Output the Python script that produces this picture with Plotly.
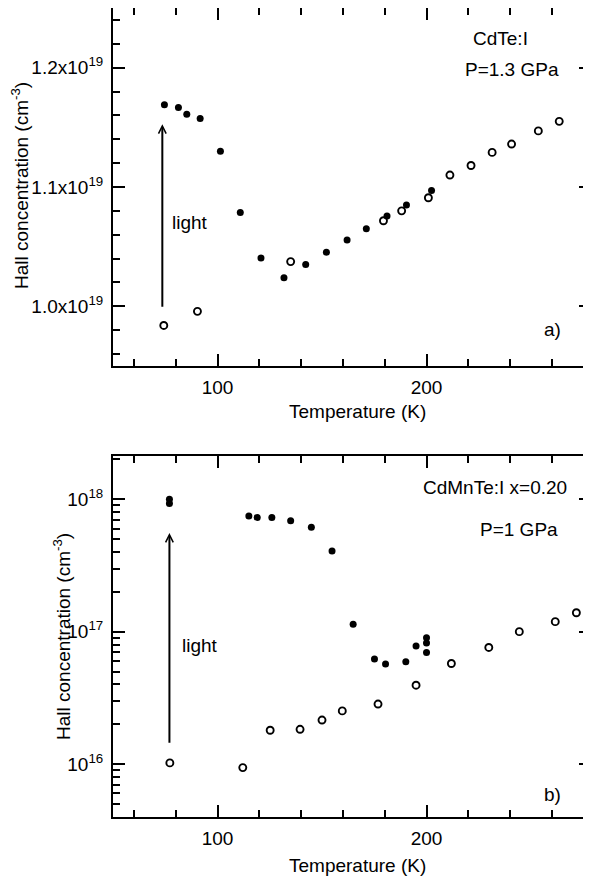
import plotly.graph_objects as go

# ---------------- data ----------------
# Panel a) CdTe:I, P = 1.3 GPa  (concentration in units of 1e19 cm^-3)
a_light_T = [74.6, 81.3, 85.3, 91.7, 101.4, 110.9, 120.8, 131.8, 142.2, 152.1,
             162.0, 171.2, 181.1, 190.4, 202.4]
a_light_n = [1.169, 1.1667, 1.161, 1.1575, 1.130, 1.0786, 1.0406, 1.0239, 1.035,
             1.0453, 1.0556, 1.065, 1.0758, 1.085, 1.097]
a_dark_T = [74.3, 90.4, 135.0, 179.4, 188.1, 200.9, 211.2, 221.3, 231.4, 240.7,
            253.5, 263.5, 277.1]
a_dark_n = [0.984, 0.9958, 1.0375, 1.0717, 1.080, 1.091, 1.110, 1.118, 1.129,
            1.136, 1.147, 1.155, 1.167]

# Panel b) CdMnTe:I x=0.20, P = 1 GPa  (cm^-3)
b_light_T = [77, 77, 115, 119, 126, 135, 144.9, 154.8, 164.9, 175.1, 180.4,
             190.1, 195, 200, 200, 200]
b_light_n = [1.0e18, 9.3e17, 7.48e17, 7.3e17, 7.3e17, 6.88e17, 6.14e17, 4.07e17,
             1.14e17, 6.21e16, 5.69e16, 5.93e16, 7.81e16, 9.0e16, 8.2e16, 6.95e16]
b_dark_T = [77.2, 112.1, 125.2, 139.5, 150, 159.7, 176.8, 195, 211.9, 229.8,
            244.4, 261.6, 271.7]
b_dark_n = [1.02e16, 9.4e15, 1.8e16, 1.83e16, 2.15e16, 2.52e16, 2.84e16, 3.94e16,
            5.75e16, 7.6e16, 1.0e17, 1.19e17, 1.39e17]

x_ticks = [100, 200]
a_y_ticks = [1.0e19, 1.1e19, 1.2e19]
a_y_labels = ["1.0x10<sup>19</sup>", "1.1x10<sup>19</sup>", "1.2x10<sup>19</sup>"]
b_y_ticks = [1e16, 1e17, 1e18]
b_y_labels = ["10<sup>16</sup>", "10<sup>17</sup>", "10<sup>18</sup>"]
b_minor_ticks = [k * 10.0 ** e for e in range(15, 19) for k in range(2, 10)]

# ---------------- figure ----------------
OFF = 8                      # page body margin of the html page
W, H = 591 - OFF, 877 - OFF
FONT = "Liberation Sans, Arial, Helvetica, sans-serif"
FS = 19

def px_x(p):
    return (p - OFF) / W

def px_y(p):
    return 1 - (p - OFF) / H

fig = go.Figure()

filled = dict(symbol="circle", size=7, color="black")
opened = dict(symbol="circle-open", size=7, color="black", line=dict(width=1.9, color="black"))

fig.add_trace(go.Scatter(x=a_light_T, y=[v * 1e19 for v in a_light_n], mode="markers",
                         marker=filled, xaxis="x", yaxis="y", showlegend=False,
                         cliponaxis=False))
fig.add_trace(go.Scatter(x=a_dark_T, y=[v * 1e19 for v in a_dark_n], mode="markers",
                         marker=opened, xaxis="x", yaxis="y", showlegend=False,
                         cliponaxis=False))
fig.add_trace(go.Scatter(x=b_light_T, y=b_light_n, mode="markers",
                         marker=filled, xaxis="x2", yaxis="y2", showlegend=False,
                         cliponaxis=False))
fig.add_trace(go.Scatter(x=b_dark_T, y=b_dark_n, mode="markers",
                         marker=opened, xaxis="x2", yaxis="y2", showlegend=False,
                         cliponaxis=False))

xdom = [px_x(113), 1.0]
a_ydom = [px_y(366), min(px_y(5), 1.0)]
b_ydom = [px_y(817), px_y(456)]

axis_common = dict(showline=True, linecolor="black", linewidth=2, mirror="ticks",
                   ticks="inside", ticklen=12, tickwidth=2, tickcolor="black",
                   showgrid=False, zeroline=False, automargin=False,
                   tickfont=dict(family=FONT, size=FS, color="black"))

xaxis_cfg = dict(axis_common, range=[50, 278.7], tickmode="array", tickvals=x_ticks,
                 ticktext=[str(t) for t in x_ticks], domain=xdom, ticklabelstandoff=3,
                 minor=dict(ticks="inside", ticklen=7, tickwidth=2, tickcolor="black",
                            dtick=20, tick0=0, showgrid=False))

fig.update_layout(
    width=W, height=H,
    margin=dict(l=0, r=0, t=0, b=0),
    paper_bgcolor="white", plot_bgcolor="white",
    template="none",
    font=dict(family=FONT, size=FS, color="black"),
    xaxis=dict(xaxis_cfg, anchor="y"),
    yaxis=dict(axis_common, anchor="x", domain=a_ydom, range=[0.95e19, 1.25e19],
               tickmode="array", tickvals=a_y_ticks, ticktext=a_y_labels,
               ticklabelstandoff=4,
               minor=dict(ticks="inside", ticklen=7, tickwidth=2, tickcolor="black",
                          dtick=0.02e19, tick0=0, showgrid=False)),
    xaxis2=dict(xaxis_cfg, anchor="y2"),
    yaxis2=dict(axis_common, anchor="x2", domain=b_ydom, type="log",
                range=[15.6, 18.327], tickmode="array", tickvals=b_y_ticks,
                ticktext=b_y_labels, ticklabelstandoff=4,
                minor=dict(ticks="inside", ticklen=7, tickwidth=2, tickcolor="black",
                           tickmode="array", tickvals=b_minor_ticks, showgrid=False)),
)

def txt(text, xp, yp, **kw):
    d = dict(text=text, x=px_x(xp), y=px_y(yp), xref="paper", yref="paper",
             showarrow=False, xanchor="center", yanchor="middle",
             font=dict(family=FONT, size=FS, color="black"))
    d.update(kw)
    fig.add_annotation(**d)

# axis titles
txt("Temperature (K)", 357, 411)
txt("Temperature (K)", 357, 865)
txt("Hall concentration (cm<sup>-3</sup>)", 20, 186, textangle=-90)
txt("Hall concentration (cm<sup>-3</sup>)", 62, 637, textangle=-90)

# panel labels
txt("CdTe:I", 500, 38)
txt("P=1.3 GPa", 512, 69)
txt("a)", 552, 329)
txt("light", 190, 222)
txt("CdMnTe:I x=0.20", 495, 487)
txt("P=1 GPa", 519, 529)
txt("b)", 552, 794)
txt("light", 200, 645)

# arrows
fig.add_annotation(x=73.6, y=1.1525e19, ax=73.6, ay=0.9983e19, xref="x", yref="y",
                   axref="x", ayref="y", showarrow=True, arrowhead=5, arrowsize=0.75,
                   arrowwidth=2, arrowcolor="black", text="")
fig.add_annotation(x=77, y=17.745, ax=77, ay=16.15, xref="x2", yref="y2",
                   axref="x2", ayref="y2", showarrow=True, arrowhead=5, arrowsize=0.75,
                   arrowwidth=2, arrowcolor="black", text="")

fig.write_html("out.html")
